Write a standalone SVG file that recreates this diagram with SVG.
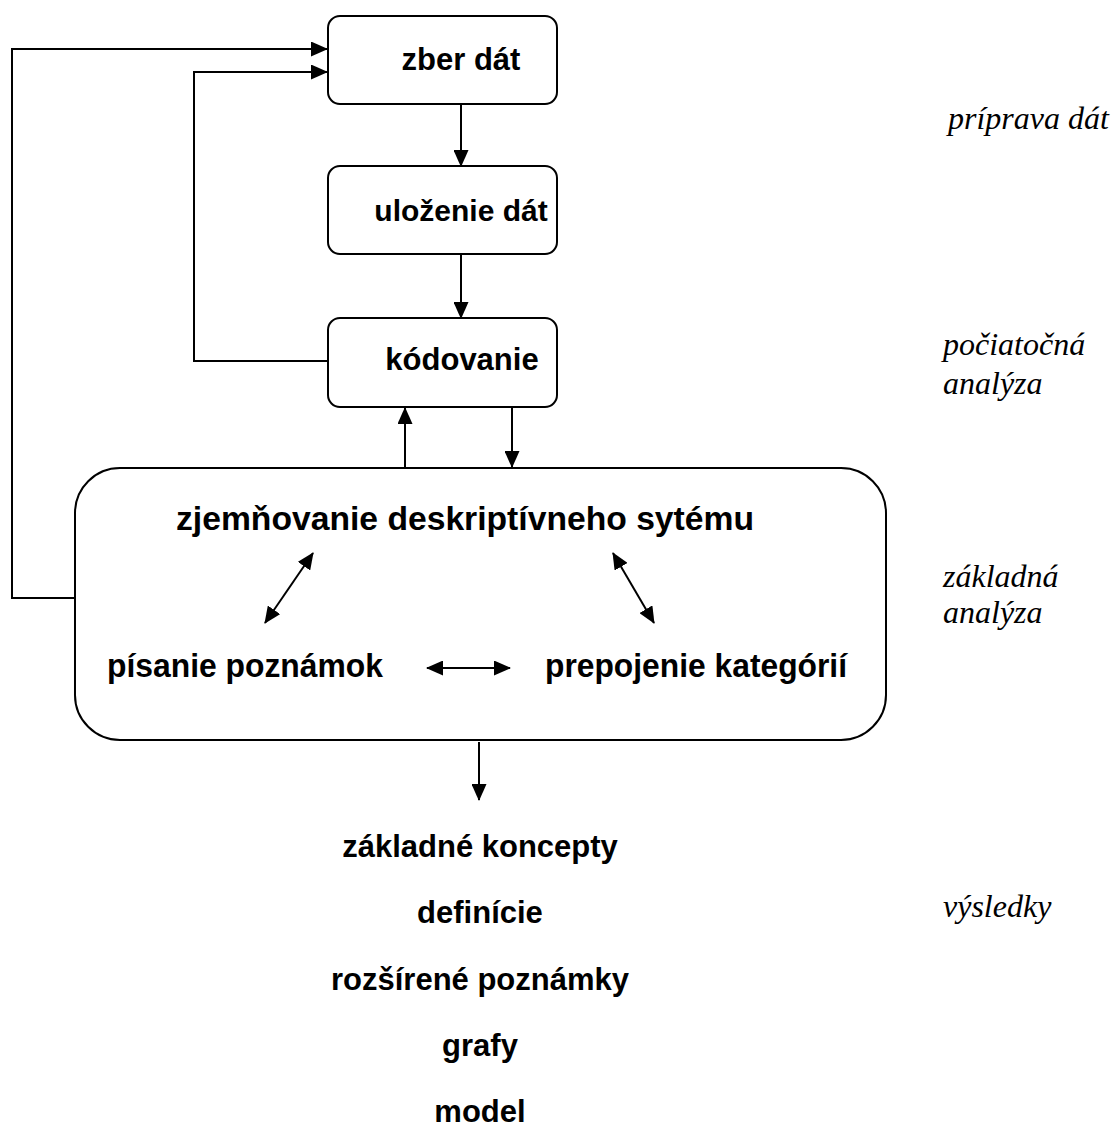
<svg xmlns="http://www.w3.org/2000/svg" width="1115" height="1129" viewBox="0 0 1115 1129">
  <style>
    .box { fill: #ffffff; stroke: #000000; stroke-width: 2; }
    .edge { fill: none; stroke: #000000; stroke-width: 2; }
    .lbl { font-family: "Liberation Sans", Arial, sans-serif; font-weight: bold; fill: #000000; text-anchor: middle; }
    .side { font-family: "Liberation Serif", "Times New Roman", serif; font-style: italic; fill: #000000; font-size: 32px; }
  </style>
  <defs>
    <marker id="arrow" markerUnits="userSpaceOnUse" markerWidth="17" markerHeight="15" refX="16" refY="7.5" orient="auto-start-reverse">
      <path d="M0,0 L17,7.5 L0,15 Z" fill="#000000"/>
    </marker>
  </defs>
  <rect width="1115" height="1129" fill="#ffffff"/>

  <!-- process steps -->
  <g id="zber">
    <rect class="box" x="328" y="16" width="229" height="88" rx="12"/>
    <text class="lbl" x="461" y="70" font-size="31">zber dát</text>
  </g>
  <g id="ulozenie">
    <rect class="box" x="328" y="166" width="229" height="88" rx="12"/>
    <text class="lbl" x="461" y="221" font-size="30">uloženie dát</text>
  </g>
  <g id="kodovanie">
    <rect class="box" x="328" y="318" width="229" height="89" rx="12"/>
    <text class="lbl" x="462" y="370" font-size="31">kódovanie</text>
  </g>
  <g id="zakladna-analyza">
    <rect class="box" x="75" y="468" width="811" height="272" rx="45"/>
    <text class="lbl" x="465" y="530" font-size="34" textLength="578" lengthAdjust="spacingAndGlyphs">zjemňovanie deskriptívneho sytému</text>
    <text class="lbl" x="245" y="677" font-size="34" textLength="276" lengthAdjust="spacingAndGlyphs">písanie poznámok</text>
    <text class="lbl" x="696" y="677" font-size="34" textLength="302" lengthAdjust="spacingAndGlyphs">prepojenie kategórií</text>
  </g>

  <!-- results -->
  <g id="vysledky">
    <text class="lbl" x="480" y="857" font-size="31">základné koncepty</text>
    <text class="lbl" x="480" y="923" font-size="31">definície</text>
    <text class="lbl" x="480" y="990" font-size="31">rozšírené poznámky</text>
    <text class="lbl" x="480" y="1056" font-size="31">grafy</text>
    <text class="lbl" x="480" y="1122" font-size="31">model</text>
  </g>

  <!-- phase labels -->
  <g id="faza">
    <text class="side" x="948" y="129">príprava dát</text>
    <text class="side" x="943" y="355">počiatočná</text>
    <text class="side" x="943" y="394">analýza</text>
    <text class="side" x="943" y="587">základná</text>
    <text class="side" x="943" y="623">analýza</text>
    <text class="side" x="943" y="917">výsledky</text>
  </g>

  <!-- connectors, drawn above the boxes -->
  <g id="connectors">
    <polyline class="edge" points="75,598 12,598 12,49 327,49" marker-end="url(#arrow)"/>
    <polyline class="edge" points="328,361 194,361 194,72 327,72" marker-end="url(#arrow)"/>
    <line class="edge" x1="461" y1="105" x2="461" y2="166" marker-end="url(#arrow)"/>
    <line class="edge" x1="461" y1="255" x2="461" y2="318" marker-end="url(#arrow)"/>
    <line class="edge" x1="405" y1="467" x2="405" y2="408" marker-end="url(#arrow)"/>
    <line class="edge" x1="512" y1="408" x2="512" y2="467" marker-end="url(#arrow)"/>
    <line class="edge" x1="479" y1="742" x2="479" y2="800" marker-end="url(#arrow)"/>
    <line class="edge" x1="265" y1="623" x2="313" y2="553" marker-start="url(#arrow)" marker-end="url(#arrow)"/>
    <line class="edge" x1="613" y1="553" x2="654" y2="623" marker-start="url(#arrow)" marker-end="url(#arrow)"/>
    <line class="edge" x1="427" y1="668" x2="510" y2="668" marker-start="url(#arrow)" marker-end="url(#arrow)"/>
  </g>
</svg>
